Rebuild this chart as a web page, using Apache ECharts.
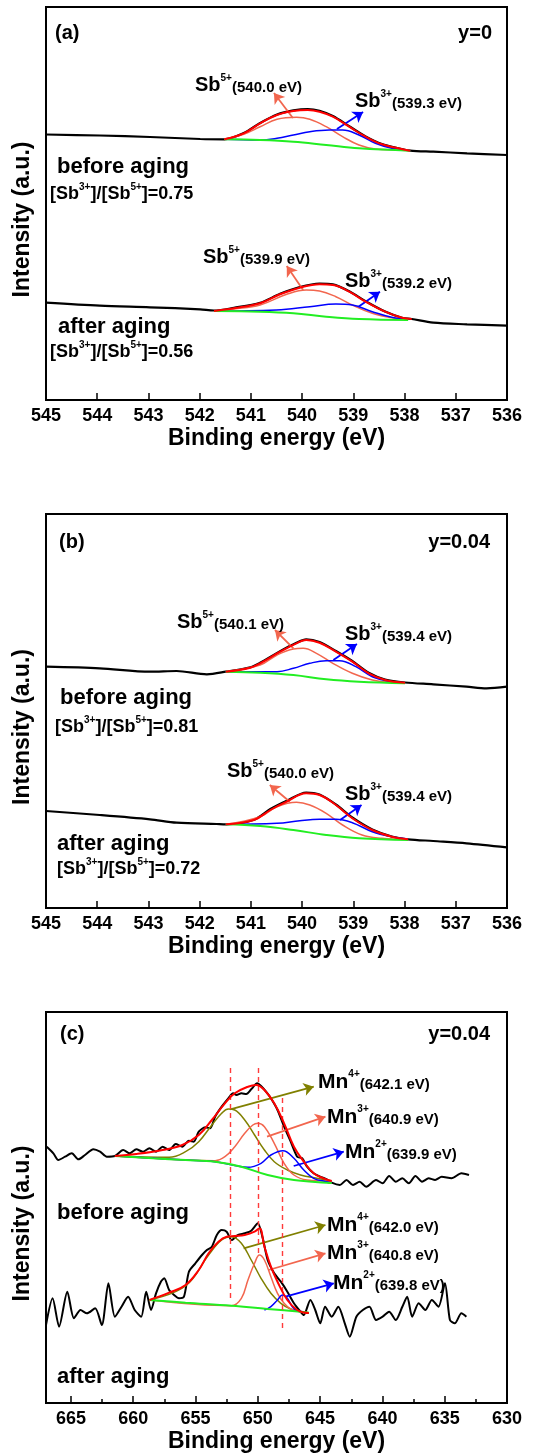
<!DOCTYPE html>
<html>
<head>
<meta charset="utf-8">
<title>XPS Sb / Mn</title>
<script src="https://cdn.jsdelivr.net/npm/echarts@6/dist/echarts.min.js"></script>
<style>
  html, body { margin: 0; padding: 0; background: #fff; }
  #chart { width: 540px; height: 1455px; }
</style>
</head>
<body>
<div id="chart"></div>
<script>
// ---- data: [binding energy (eV), intensity (a.u.)] ----
// panel (a) y=0, Sb 3d3/2
var aBlackBefore = [[545,265.5],[543.95,264.5],[542.97,263],[541.99,261],[541.52,260.7],[541.14,266.9],[540.82,277],[540.49,285.5],[540.17,289.6],[539.89,291],[539.66,289.3],[539.40,284],[539.08,273.8],[538.76,263.6],[538.44,255.9],[538.12,251.7],[537.89,249.4],[537.44,248.3],[536.78,246.7],[536.0,245]];
var aRedBefore = [[541.52,260.7],[541.14,266.7],[540.82,276.7],[540.49,285],[540.17,289],[539.89,290],[539.66,288.3],[539.40,283.3],[539.08,273.3],[538.76,263.3],[538.44,255.7],[538.12,251.7],[537.89,249.3]];
var aOrangeBefore = [[541.52,260.7],[541.14,265.7],[540.82,273.3],[540.49,280.7],[540.11,282.7],[539.85,280.7],[539.53,273.3],[539.21,263.3],[538.89,255],[538.57,251],[538.12,250],[537.89,249.5]];
var aBlueBefore = [[541.52,260.7],[540.82,260],[540.49,261.7],[540.17,265],[539.85,268.3],[539.47,270],[539.21,270],[538.89,265],[538.57,256.7],[538.25,251.7],[537.99,250],[537.89,249.5]];
var aGreenBefore = [[541.52,260.7],[540.82,260],[540.17,258.3],[539.53,255],[538.89,251.7],[537.89,249.3]];
var aBlackAfter = [[545,97.3],[543.95,94.3],[542.97,92.7],[541.99,90.7],[541.72,89.5],[541.33,92.2],[540.82,97.2],[540.43,106.2],[540.045,113],[539.66,116.5],[539.40,115.7],[539.08,108.8],[538.76,98.8],[538.38,88.5],[538.05,82.3],[537.86,81],[537.44,77.3],[536.78,75.7],[536.0,74.3]];
var aRedAfter = [[541.72,89],[541.33,91.7],[540.82,96.7],[540.43,105.7],[540.045,112.3],[539.66,115.7],[539.40,115],[539.08,108.3],[538.76,98.3],[538.38,88.3],[538.05,82.3],[537.86,81]];
var aOrangeAfter = [[541.72,89],[541.33,91],[540.82,95],[540.30,105.7],[539.92,110],[539.66,109],[539.34,103.3],[539.02,95],[538.63,86.7],[538.25,82.3],[537.93,81]];
var aBlueAfter = [[541.72,89],[540.50,90],[539.85,93.3],[539.34,96],[539.02,95],[538.63,88.3],[538.25,82.7],[537.93,80.7]];
var aGreenAfter = [[541.72,89],[540.82,88.3],[540.17,86.7],[539.53,83.3],[538.89,81],[537.93,80]];

// panel (b) y=0.04, Sb 3d3/2
var bBlackBefore = [[545,241.3],[543.95,239.7],[542.97,236.3],[542.45,237],[541.86,233.7],[541.49,236.3],[541.01,240.8],[540.82,245.2],[540.43,256.8],[540.11,265.2],[539.92,268.7],[539.66,266],[539.34,257],[539.02,247],[538.70,235.3],[538.38,228.5],[537.99,225.5],[537.44,223.7],[536.79,221.3],[536.40,219.7],[536.0,221.3]];
var bRedBefore = [[541.49,236.3],[541.01,240.3],[540.82,244.7],[540.43,256.3],[540.11,264.7],[539.92,268],[539.66,265.3],[539.34,256.3],[539.02,246.3],[538.70,234.7],[538.38,228],[537.99,225.3]];
var bOrangeBefore = [[541.49,236.3],[540.82,243],[540.49,253],[540.17,259],[539.98,259.7],[539.72,254.7],[539.40,244.7],[539.02,234.7],[538.63,228],[538.25,225.7],[537.99,225.3]];
var bBlueBefore = [[541.49,236.3],[540.49,236.3],[540.17,239.7],[539.85,244.7],[539.53,247.3],[539.27,247.3],[538.95,241.3],[538.63,231.3],[538.25,226.3],[537.99,225.3]];
var bGreenBefore = [[541.49,236.3],[540.82,235.3],[540.17,233],[539.53,228.7],[538.89,226.3],[537.99,224.7]];
var bBlackAfter = [[545,97],[543.95,93],[542.97,88.7],[542.45,85.3],[541.67,84],[541.49,83.7],[540.94,88.3],[540.62,99],[540.30,107.3],[539.92,115.5],[539.66,113.5],[539.34,103.5],[539.02,90.5],[538.63,78.5],[538.25,71.5],[537.93,68.7],[537.44,67],[536.79,64.7],[536.0,60.7]];
var bRedAfter = [[541.49,83.7],[540.94,88],[540.62,98],[540.30,106.3],[539.92,114.7],[539.66,113],[539.34,103],[539.02,89.7],[538.63,78],[538.25,71.3],[537.93,68.7]];
var bOrangeAfter = [[541.49,83.7],[540.82,91.3],[540.49,101.3],[540.11,105.7],[539.85,103],[539.53,94.7],[539.21,83],[538.83,73],[538.44,69.7],[537.99,68.7]];
var bBlueAfter = [[541.49,83.7],[540.49,84.7],[540.045,87.3],[539.66,88.7],[539.34,88.7],[539.02,85.3],[538.63,76.3],[538.25,71.3],[537.93,69]];
var bGreenAfter = [[541.49,83.7],[540.82,82],[540.17,78],[539.53,73],[538.89,69.7],[537.93,68]];

// panel (c) y=0.04, Mn 2p
var cBlackBefore = [[666.94,256.3],[666.41,249.7],[666.01,243],[665.47,246.3],[664.93,249.7],[664.40,243.7],[663.87,248],[663.20,253.7],[662.66,251.3],[662.12,246.3],[661.47,247],
  [660.81,253],[660.28,249.7],[659.75,253.7],[659.23,251.3],[658.70,254.7],[658.17,251.3],[657.64,256.3],[657.12,253],[656.59,259],[656.06,256.3],[655.53,262.3],[655.14,261.3],[654.74,271.3],[654.22,275.7],[653.82,274.7],[653.43,286.3],[652.90,296.3],[652.37,304.7],[651.98,309.7],[651.71,308],[651.32,309.7],[650.92,309],[650.53,313.7],[650.05,319.7],[649.74,317],[649.34,311.3],[648.95,304.7],[648.42,293],[647.89,276.3],[647.36,261.3],[646.84,246.3],[646.44,244.7],[646.05,236.3],[645.52,229.7],[644.99,226.3],[644.47,223.7],[644.07,220.3],
  [643.41,218],[642.88,223],[642.36,218],[641.83,221.3],[641.30,216.3],[640.51,223],[639.98,219.7],[639.46,227],[638.93,221.3],[638.40,224.7],[637.88,219.7],[637.35,227],[636.82,221.3],[636.29,224.7],[635.77,223],[635.24,226.3],[634.45,224.7],[633.66,229.7],[633.05,228]];
var cRedBefore = [[661.47,247],[659.75,249],[657.64,253],[656.06,258],[654.74,268],[653.69,283],[652.64,299.7],[651.85,309.7],[650.79,316.3],[650.13,318],[649.47,313],[648.68,299.7],[647.89,279.7],[647.10,256.3],[646.31,241.3],[645.52,229.7],[644.73,224.7],[644.07,222]];
var cOliveBefore = [[661.47,247],[657.12,245.7],[655.80,251.3],[654.74,261.3],[653.69,278],[652.90,289.7],[652.37,294],[651.85,293],[651.05,283],[650.26,268],[649.47,253],[648.68,241.3],[647.63,233],[646.57,228],[645.26,224.7],[644.07,222]];
var cOrangeBefore = [[661.47,247],[655.80,243],[653.43,242.3],[652.64,246.3],[651.85,256.3],[651.05,269.7],[650.40,278],[650.0,279.7],[649.47,276.3],[648.68,259.7],[647.89,239.7],[647.10,228],[646.05,223],[644.47,222],[644.07,221]];
var cBlueBefore = [[661.47,247],[655.80,243],[653.43,241.3],[651.85,237.5],[650.79,235.7],[649.74,239.7],[648.95,248],[647.98,252.3],[647.10,244.7],[646.31,233],[645.52,224.7],[644.47,221.3],[644.07,220.5]];
var cGreenBefore = [[661.47,247],[658.43,244.7],[655.80,243],[653.43,241.3],[651.32,236.3],[649.21,228],[647.10,223],[644.47,220.3],[644.07,220]];
var cBlackAfter = [[667.0,78],[666.47,104.7],[665.95,76.3],[665.29,111.3],[664.76,84.7],[664.23,93],[663.71,89.7],[663.05,94.7],[662.52,78],[661.99,119.7],[661.47,86.3],[660.94,96.3],[660.41,106.3],[659.88,93],[659.36,86.3],[658.96,111.3],[658.57,93],
  [658.17,109.7],[657.78,121.3],[657.51,124.7],[657.12,113],[656.72,108],[656.33,104.7],[655.93,106.3],[655.53,131.3],[655.01,139.7],[654.48,148],[654.09,153],[653.69,156.3],[653.29,168],[652.90,173],[652.50,171.3],[652.11,163],[651.58,168],[651.05,169.7],[650.53,172.3],[650.0,179.7],[649.60,164.7],[649.21,143],[648.68,129.7],[648.15,121.3],[647.63,111.3],[647.10,99.7],[646.57,91.3],[646.31,88],
  [645.78,103],[645.39,93],[644.99,79.7],[644.60,96.3],[644.07,86.3],[643.54,96.3],[643.02,79.7],[642.62,66.3],[642.09,86.3],[641.57,93],[641.04,96.3],[640.51,83],[639.98,86.3],[639.46,91.3],[638.93,83],[638.40,96.3],[638.01,106.3],[637.61,86.3],[637.09,99.7],[636.56,93],[636.03,103],[635.50,96.3],[634.98,119.7],[634.58,83],[634.19,79.7],[633.66,89.7],[633.26,86.3]];
var cRedAfter = [[658.70,103],[657.12,110.3],[655.80,118],[654.74,133],[653.95,149.7],[653.16,161.3],[652.50,166.3],[651.85,167],[651.05,168],[650.26,171.3],[649.87,174.7],[649.47,156.3],[648.95,136.3],[648.42,121.3],[647.63,103],[646.84,93],[646.31,90.5],[645.9,90]];
var cOliveAfter = [[658.70,103],[655.80,117],[653.95,148],[652.90,163],[652.11,166.3],[651.32,159.7],[650.53,143],[649.74,124.7],[648.95,109.7],[648.15,99.7],[647.36,94],[646.57,91.3],[645.9,90.3]];
var cOrangeAfter = [[658.70,103],[652.11,97.3],[651.32,104.7],[650.79,123],[650.26,139.7],[649.87,148],[649.47,143],[648.95,126.3],[648.42,109.7],[647.89,99.7],[647.36,94],[646.57,91.3],[645.9,90.3]];
var cBlueAfter = [[649.47,93],[648.95,96.3],[648.42,103],[648.02,108],[647.63,104.7],[647.23,96.3],[646.84,92.3],[646.31,91.3]];
var cGreenAfter = [[658.70,103],[655.80,100.3],[652.11,97.3],[649.21,94],[646.57,91.3],[645.9,90.3]];

// peak position guides in (c): [eV, top, bottom]
var cGuides = [[652.2,335,103],[650.0,335,148],[648.0,305,71]];

// arrows: [from, to]
var aArrows = {
  o1: [[540.18,282],[540.55,307]], b1: [[539.32,271],[538.81,288]],
  o2: [[539.98,110],[540.30,134]], b2: [[538.90,93.3],[538.48,108.3]]
};
var bArrows = {
  o1: [[540.17,259.7],[540.53,278]], b1: [[539.39,248],[538.93,264]],
  o2: [[540.24,106.3],[540.63,123]], b2: [[539.26,88],[538.84,103]]
};
var cArrows = {
  v1: [[652.21,293.7],[645.51,316.3]], o1: [[649.26,266.3],[644.57,286.3]], b1: [[647.12,237],[643.10,251.3]],
  v2: [[651.14,154.7],[644.57,178]], o2: [[649.13,133],[644.57,149.7]], b2: [[647.79,106.3],[643.90,119.7]]
};

var xTitle = 'Binding energy (eV)';
var yTitle = 'Intensity (a.u.)';

// ---- styling ----
var FONT = '"Liberation Sans", Arial, sans-serif';
var C_BLACK = '#000000', C_RED = '#ff0000', C_ORANGE = '#f2664e', C_BLUE = '#0000ff', C_GREEN = '#22ee22', C_OLIVE = '#808000';

var grids = [
  { left: 46, top: 7, width: 461, height: 393 },
  { left: 46, top: 514, width: 461, height: 394 },
  { left: 46, top: 1012, width: 461, height: 391 }
];
var yMax = [393, 394, 391];

function xAxisFor(i) {
  var ax = {
    gridIndex: i, type: 'value', inverse: true,
    axisLine: { show: true, onZero: false, lineStyle: { color: '#000', width: 2 } },
    axisTick: { show: true, inside: true, length: 7, lineStyle: { color: '#000', width: 1.5 } },
    axisLabel: { color: '#000', fontSize: 18, fontWeight: 'bold', fontFamily: FONT, margin: 7 },
    splitLine: { show: false },
    name: xTitle, nameLocation: 'middle', nameGap: 27,
    nameTextStyle: { color: '#000', fontSize: 23, fontWeight: 'bold', fontFamily: FONT }
  };
  if (i < 2) {
    ax.min = 536; ax.max = 545; ax.interval = 1;
  } else {
    ax.min = 630; ax.max = 667; ax.interval = 5;
    ax.minorTick = { show: true, splitNumber: 2, length: 4, lineStyle: { color: '#000', width: 1.5 } };
    ax.axisLabel.formatter = function (v) { return v % 5 === 0 ? v : ''; };
  }
  return ax;
}
function yAxisFor(i) {
  return {
    gridIndex: i, type: 'value', min: 0, max: yMax[i],
    axisLine: { show: true, lineStyle: { color: '#000', width: 2 } },
    axisTick: { show: false }, axisLabel: { show: false }, splitLine: { show: false },
    name: yTitle, nameLocation: 'middle', nameGap: 12,
    nameTextStyle: { color: '#000', fontSize: 23, fontWeight: 'bold', fontFamily: FONT, padding: [0, 32, 0, 0] }
  };
}

function curve(data, i, color, width, z, smooth) {
  return {
    type: 'line', xAxisIndex: i, yAxisIndex: i, data: data,
    showSymbol: false, symbol: 'none', smooth: smooth == null ? 0.4 : smooth,
    lineStyle: { color: color, width: width }, z: z, silent: true
  };
}
function arrows(i, list, color) {
  return {
    type: 'line', xAxisIndex: i, yAxisIndex: i, data: [], silent: true, z: 10,
    markLine: {
      silent: true, animation: false, symbol: ['none', 'arrow'], symbolSize: 10,
      label: { show: false },
      itemStyle: { color: color },
      lineStyle: { color: color, width: 1.8, type: 'solid' },
      data: list.map(function (p) { return [{ coord: p[0] }, { coord: p[1] }]; })
    }
  };
}

var series = [
  curve(aBlackBefore, 0, C_BLACK, 2.2, 2, 0.3), curve(aBlackAfter, 0, C_BLACK, 2.2, 2, 0.3),
  curve(aOrangeBefore, 0, C_ORANGE, 1.5, 3), curve(aOrangeAfter, 0, C_ORANGE, 1.5, 3),
  curve(aBlueBefore, 0, C_BLUE, 1.5, 3), curve(aBlueAfter, 0, C_BLUE, 1.5, 3),
  curve(aGreenBefore, 0, C_GREEN, 2, 4), curve(aGreenAfter, 0, C_GREEN, 2, 4),
  curve(aRedBefore, 0, C_RED, 2, 5), curve(aRedAfter, 0, C_RED, 2, 5),
  arrows(0, [aArrows.o1, aArrows.o2], C_ORANGE), arrows(0, [aArrows.b1, aArrows.b2], C_BLUE),

  curve(bBlackBefore, 1, C_BLACK, 2.2, 2, 0.3), curve(bBlackAfter, 1, C_BLACK, 2.2, 2, 0.3),
  curve(bOrangeBefore, 1, C_ORANGE, 1.5, 3), curve(bOrangeAfter, 1, C_ORANGE, 1.5, 3),
  curve(bBlueBefore, 1, C_BLUE, 1.5, 3), curve(bBlueAfter, 1, C_BLUE, 1.5, 3),
  curve(bGreenBefore, 1, C_GREEN, 2, 4), curve(bGreenAfter, 1, C_GREEN, 2, 4),
  curve(bRedBefore, 1, C_RED, 2, 5), curve(bRedAfter, 1, C_RED, 2, 5),
  arrows(1, [bArrows.o1, bArrows.o2], C_ORANGE), arrows(1, [bArrows.b1, bArrows.b2], C_BLUE),

  curve(cBlackBefore, 2, C_BLACK, 2, 2, 0.25), curve(cBlackAfter, 2, C_BLACK, 2, 2, 0.25),
  curve(cOliveBefore, 2, C_OLIVE, 1.5, 3), curve(cOliveAfter, 2, C_OLIVE, 1.5, 3),
  curve(cOrangeBefore, 2, C_ORANGE, 1.5, 3), curve(cOrangeAfter, 2, C_ORANGE, 1.5, 3),
  curve(cBlueBefore, 2, C_BLUE, 1.5, 3), curve(cBlueAfter, 2, C_BLUE, 1.5, 3),
  curve(cGreenBefore, 2, C_GREEN, 2, 4), curve(cGreenAfter, 2, C_GREEN, 2, 4),
  curve(cRedBefore, 2, C_RED, 2, 5), curve(cRedAfter, 2, C_RED, 2, 5),
  arrows(2, [cArrows.v1, cArrows.v2], C_OLIVE), arrows(2, [cArrows.o1, cArrows.o2], C_ORANGE),
  arrows(2, [cArrows.b1, cArrows.b2], C_BLUE),
  {
    type: 'line', xAxisIndex: 2, yAxisIndex: 2, data: [], silent: true, z: 9,
    markLine: {
      silent: true, animation: false, symbol: 'none', label: { show: false },
      lineStyle: { color: '#ff3b3b', width: 1.4, type: [5, 4] },
      data: cGuides.map(function (g) { return [{ coord: [g[0], g[1]] }, { coord: [g[0], g[2]] }]; })
    }
  }
];

// ---- texts ----
var rich = {
  b: { fontSize: 20, fontWeight: 'bold', fontFamily: FONT, lineHeight: 22, verticalAlign: 'bottom' },
  m: { fontSize: 21, fontWeight: 'bold', fontFamily: FONT, lineHeight: 23, verticalAlign: 'bottom' },
  s: { fontSize: 10, fontWeight: 'bold', fontFamily: FONT, lineHeight: 12, verticalAlign: 'top' },
  p: { fontSize: 15, fontWeight: 'bold', fontFamily: FONT, lineHeight: 18, verticalAlign: 'bottom' },
  r: { fontSize: 18, fontWeight: 'bold', fontFamily: FONT, lineHeight: 21, verticalAlign: 'bottom' },
  rs: { fontSize: 10, fontWeight: 'bold', fontFamily: FONT, lineHeight: 12, verticalAlign: 'top' }
};
function txt(x, y, text, size, align) {
  return {
    type: 'text', x: x, y: y, z: 100, silent: true,
    style: {
      text: text, fill: '#000', fontSize: size || 20, fontWeight: 'bold', fontFamily: FONT,
      align: align || 'left', verticalAlign: 'middle', rich: rich
    }
  };
}
function sb(ion, ev) { return '{b|Sb}{s|' + ion + '}{p|(' + ev + ' eV)}'; }
function mn(ion, ev) { return '{m|Mn}{s|' + ion + '}{p|(' + ev + ' eV)}'; }
function ratio(v) { return '{r|[Sb}{rs|3+}{r|]/[Sb}{rs|5+}{r|]=' + v + '}'; }

var graphics = [
  txt(55, 33, '(a)', 20), txt(492, 33, 'y=0', 20, 'right'),
  txt(57, 167, 'before aging', 22), txt(50, 193, ratio('0.75')),
  txt(58, 327, 'after aging', 22), txt(50, 351, ratio('0.56')),
  txt(195, 84, sb('5+', '540.0')), txt(355, 100, sb('3+', '539.3')),
  txt(203, 256, sb('5+', '539.9')), txt(345, 280, sb('3+', '539.2')),

  txt(59, 542, '(b)', 20), txt(490, 542, 'y=0.04', 20, 'right'),
  txt(60, 698, 'before aging', 22), txt(55, 726, ratio('0.81')),
  txt(57, 844, 'after aging', 22), txt(57, 868, ratio('0.72')),
  txt(177, 621, sb('5+', '540.1')), txt(345, 633, sb('3+', '539.4')),
  txt(227, 770, sb('5+', '540.0')), txt(345, 793, sb('3+', '539.4')),

  txt(60, 1034, '(c)', 20), txt(490, 1034, 'y=0.04', 20, 'right'),
  txt(57, 1213, 'before aging', 22), txt(57, 1377, 'after aging', 22),
  txt(318, 1081, mn('4+', '642.1')), txt(327, 1116, mn('3+', '640.9')), txt(345, 1151, mn('2+', '639.9')),
  txt(327, 1224, mn('4+', '642.0')), txt(327, 1252, mn('3+', '640.8')), txt(333, 1282, mn('2+', '639.8'))
];

var chart = echarts.init(document.getElementById('chart'), null, { renderer: 'canvas' });
chart.setOption({
  animation: false,
  backgroundColor: '#fff',
  grid: grids.map(function (g) {
    return { left: g.left, top: g.top, width: g.width, height: g.height, show: true, borderColor: '#000', borderWidth: 2, backgroundColor: 'transparent', containLabel: false };
  }),
  xAxis: [xAxisFor(0), xAxisFor(1), xAxisFor(2)],
  yAxis: [yAxisFor(0), yAxisFor(1), yAxisFor(2)],
  series: series,
  graphic: graphics
});
</script>
</body>
</html>
